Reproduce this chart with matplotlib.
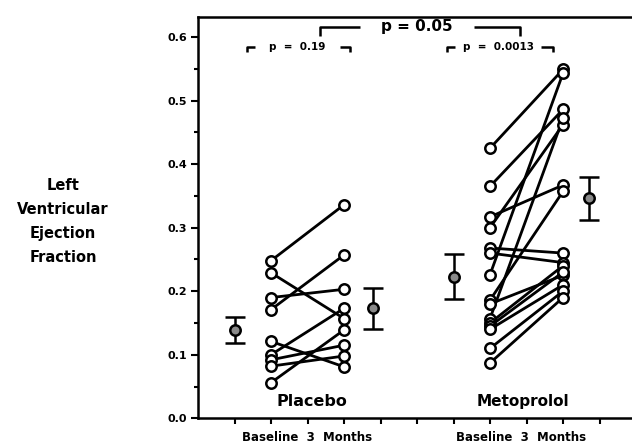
import matplotlib
matplotlib.use("Agg")
import matplotlib.pyplot as plt
from matplotlib.ticker import MultipleLocator

# ── Data ──────────────────────────────────────────────────────────────────────
placebo_baseline = [0.248, 0.229, 0.190, 0.171, 0.121, 0.100, 0.092, 0.082, 0.056]
placebo_3mo      = [0.336, 0.157, 0.203, 0.257, 0.081, 0.173, 0.115, 0.098, 0.139]

meto_baseline = [0.425, 0.365, 0.317, 0.300, 0.268, 0.260, 0.226, 0.186,
                 0.180, 0.157, 0.150, 0.145, 0.140, 0.110, 0.087]
meto_3mo      = [0.549, 0.486, 0.367, 0.462, 0.260, 0.245, 0.543, 0.357,
                 0.225, 0.472, 0.240, 0.230, 0.210, 0.200, 0.190]

placebo_mean = [0.139, 0.173]
placebo_err  = [0.021, 0.032]
meto_mean    = [0.223, 0.346]
meto_err     = [0.035, 0.034]

y_ticks  = [0.0, 0.1, 0.2, 0.3, 0.4, 0.5, 0.6]
y_labels = ["0.0", "0.1", "0.2", "0.3", "0.4", "0.5", "0.6"]

groups       = ["Placebo", "Metoprolol"]
time_labels  = "Baseline  3  Months"
p_values     = ["p  =  0.19", "p  =  0.0013", "p = 0.05"]

# ── Layout ────────────────────────────────────────────────────────────────────
X_PLA = (2, 4)          # baseline / 3 months columns
X_MET = (8, 10)
X_PLA_MEAN = (1, 4.8)
X_MET_MEAN = (7, 10.7)

FONT = "DejaVu Sans"
plt.rcParams["font.family"] = FONT

fig = plt.figure(figsize=(6.32, 4.43), dpi=100)
ax = fig.add_axes([0.3133, 0.0558, 0.6867, 0.9065])
ax.set_xlim(0, 11.89)
ax.set_ylim(0, 0.632)


def draw_pairs(ax, xs, base, after):
    for b, a in zip(base, after):
        ax.plot(xs, [b, a], color="black", lw=2.0, zorder=2)
    ax.plot([xs[0]] * len(base), base, "o", ms=7.5, mfc="white", mec="black",
            mew=1.8, zorder=3, ls="none")
    ax.plot([xs[1]] * len(after), after, "o", ms=7.5, mfc="white", mec="black",
            mew=1.8, zorder=3, ls="none")


def draw_mean(ax, xs, means, errs):
    ax.errorbar(xs, means, yerr=errs, fmt="o", ms=7.5, mfc="#8a8a8a", mec="black",
                mew=1.8, ecolor="black", elinewidth=1.8, capsize=7, capthick=2.2,
                zorder=3)


draw_pairs(ax, X_PLA, placebo_baseline, placebo_3mo)
draw_pairs(ax, X_MET, meto_baseline, meto_3mo)
draw_mean(ax, X_PLA_MEAN, placebo_mean, placebo_err)
draw_mean(ax, X_MET_MEAN, meto_mean, meto_err)


def bracket(ax, x0, x1, xt0, xt1, y, drop, text, xc, size):
    kw = dict(color="black", lw=1.8, clip_on=False, solid_capstyle="butt")
    ax.plot([x0, x0, xt0], [y - drop, y, y], **kw)
    ax.plot([xt1, x1, x1], [y, y, y - drop], **kw)
    ax.text(xc, y, text, ha="center", va="center", fontsize=size,
            fontweight="bold")


bracket(ax, 1.34, 4.16, 1.55, 3.90, 0.585, 0.008, p_values[0], 2.72, 7.5)
bracket(ax, 6.82, 9.72, 7.05, 9.40, 0.585, 0.008, p_values[1], 8.22, 7.5)
bracket(ax, 3.34, 8.82, 4.45, 7.55, 0.616, 0.014, p_values[2], 6.0, 11)

# group names inside the plot
ax.text(3.12, 0.026, groups[0], ha="center", va="center",
        fontsize=11.5, fontweight="bold")
ax.text(8.9, 0.026, groups[1], ha="center", va="center",
        fontsize=11, fontweight="bold")

# ── Axes styling ──────────────────────────────────────────────────────────────
for s in ["left", "bottom", "top"]:
    ax.spines[s].set_linewidth(1.8)
ax.spines["right"].set_visible(False)

ax.set_yticks(y_ticks)
ax.set_yticklabels(y_labels, fontsize=8, fontweight="bold")
ax.yaxis.set_minor_locator(MultipleLocator(0.05))
ax.tick_params(axis="y", which="major", direction="out", length=5, width=1.5, pad=3)
ax.tick_params(axis="y", which="minor", direction="out", length=3, width=1.5)

ax.set_xticks(range(1, 12))
ax.set_xticklabels([])
ax.tick_params(axis="x", which="major", direction="out", length=4, width=1.5)

# x labels under each group
for xc in (3.0, 8.85):
    ax.text(xc, -0.03, time_labels, ha="center", va="center", fontsize=8.5,
            fontweight="bold", transform=ax.transData, clip_on=False)

fig.text(0.100, 0.50, "Left\nVentricular\nEjection\nFraction", ha="center",
         va="center", fontsize=10.5, fontweight="bold", linespacing=1.75)

fig.savefig("out.png", dpi=100)
